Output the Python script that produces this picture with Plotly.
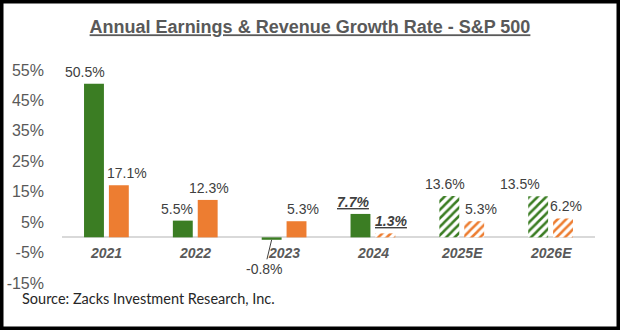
import plotly.graph_objects as go

# S&P 500 annual growth rates (%)
years = ["2021", "2022", "2023", "2024", "2025E", "2026E"]
earnings_growth = [50.5, 5.5, -0.8, 7.7, 13.6, 13.5]
revenue_growth = [17.1, 12.3, 5.3, 1.3, 5.3, 6.2]
y_ticks = [-15, -5, 5, 15, 25, 35, 45, 55]

# which bars are drawn hatched (estimates / preliminary)
earnings_hatched = [False, False, False, False, True, True]
revenue_hatched = [False, False, False, True, True, True]

GREEN = "#3b7d23"
ORANGE = "#ed7d31"
LABEL = "#404040"
AXIS_TEXT = "#595959"
BASE = "Liberation Sans, Arial, sans-serif"

BARGAP = 0.44
BARGROUPGAP = 0.2
slot = (1 - BARGAP) / 2  # width of each series slot in category units
offsets = {"earn": -slot / 2, "rev": slot / 2}

# small horizontal nudges (px) for the value labels
earn_nudge = [-9, -6, 0, -7, -4, -18]
rev_nudge = [8, 1, 6, 6, 7, 3]


def pattern(flags, color):
    return dict(
        shape=["/" if f else "" for f in flags],
        fgcolor=color,
        bgcolor="white",
        size=6,
        solidity=0.42,
        fillmode="replace",
    )


fig = go.Figure()
fig.add_trace(go.Bar(
    x=years, y=earnings_growth, name="Earnings",
    marker=dict(color=GREEN, line=dict(width=0),
                pattern=pattern(earnings_hatched, GREEN)),
))
fig.add_trace(go.Bar(
    x=years, y=revenue_growth, name="Revenue",
    marker=dict(color=ORANGE, line=dict(width=0),
                pattern=pattern(revenue_hatched, ORANGE)),
))

annotations = []


def value_text(v, year):
    s = f"{v:.1f}%"
    if year == "2024":
        s = f"<b><i><u>{s}</u></i></b>"
    return s


for i, yr in enumerate(years):
    for key, vals, nudge in (("earn", earnings_growth, earn_nudge),
                             ("rev", revenue_growth, rev_nudge)):
        v = vals[i]
        if v >= 0:
            annotations.append(dict(
                x=i + offsets[key], y=v, xref="x", yref="y",
                text=value_text(v, yr), showarrow=False,
                yanchor="bottom", yshift=2, xshift=nudge[i],
                font=dict(family=BASE, size=14, color=LABEL),
            ))
        else:
            # negative value: label below with a short leader line
            annotations.append(dict(
                x=i + offsets[key], y=v, xref="x", yref="y",
                text=value_text(v, yr), showarrow=True,
                arrowhead=0, arrowwidth=1, arrowcolor=LABEL,
                ax=-7, ay=29,
                font=dict(family=BASE, size=14, color=LABEL),
            ))
    # category label just under the zero line
    annotations.append(dict(
        x=i, y=0, xref="x", yref="y", text=f"<b><i>{yr}</i></b>",
        showarrow=False, yanchor="top", yshift=-6,
        font=dict(family=BASE, size=14, color=AXIS_TEXT),
    ))

# plot domain geometry (px) used to place the outer frame and footnote
W, H = 620, 330
ML, MR, MT, MB = 62, 25, 70, 47
pw, ph = W - ML - MR, H - MT - MB


def px_x(x):
    return (x - ML) / pw


def px_y(y):
    return 1 - (y - MT) / ph


annotations.append(dict(
    x=px_x(20), y=px_y(298), xref="paper", yref="paper",
    text="Source: Zacks Investment Research, Inc.",
    showarrow=False, xanchor="left", yanchor="middle",
    font=dict(family="Lato, sans-serif", size=14.5, color="#262626"),
))

fig.update_layout(
    width=W, height=H,
    margin=dict(l=ML, r=MR, t=MT, b=MB, autoexpand=False),
    paper_bgcolor="white", plot_bgcolor="white",
    barmode="group", bargap=BARGAP, bargroupgap=BARGROUPGAP,
    showlegend=False,
    title=dict(
        text="<b><u>Annual Earnings & Revenue Growth Rate - S&P 500</u></b>",
        x=0.5, xref="container", xanchor="center",
        y=1 - 27 / H, yref="container", yanchor="middle",
        font=dict(family=BASE, size=18, color=AXIS_TEXT),
    ),
    xaxis=dict(type="category", range=[-0.5, len(years) - 0.5],
               showticklabels=False, showgrid=False, zeroline=False,
               showline=False, ticks="", automargin=False),
    yaxis=dict(
        range=[y_ticks[0], y_ticks[-1]],
        tickvals=y_ticks, ticktext=[f"{t}%" for t in y_ticks],
        showgrid=False, zeroline=True, zerolinecolor="#d9d9d9", zerolinewidth=1.5,
        showline=False, ticks="", ticklabelstandoff=17, automargin=False,
        tickfont=dict(family=BASE, size=16, color=AXIS_TEXT),
    ),
    annotations=annotations,
    shapes=[dict(
        type="rect", xref="paper", yref="paper",
        x0=px_x(0), x1=px_x(W), y0=px_y(H), y1=px_y(0),
        line=dict(color="black", width=7), fillcolor="rgba(0,0,0,0)",
        layer="above",
    )],
)

fig.write_html("out.html")
